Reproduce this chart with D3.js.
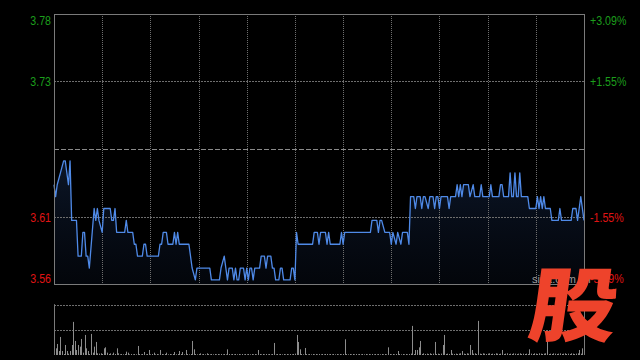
<!DOCTYPE html>
<html>
<head>
	<meta charset="utf-8">
	<script src="https://d3js.org/d3.v7.min.js"></script>
	<style>
		html, body { margin: 0; padding: 0; background: #000; }
		svg { display: block; }
		.lbl { font-family: "Liberation Sans", Arial, sans-serif; font-size: 13px; }
	</style>
</head>
<body>
<script type="text/javascript">
	"use strict";

	// minute of the trading session (0 = 9:30, 150 = 12:00/13:00, 330 = 16:00)
	var minutes = [0,1,2,4,6,7,9,10,11,14,15,17,18,19,20,21,22,25,26,27,28,30,31,35,36,37,38,39,44,45,46,49,
		50,51,52,55,56,57,58,65,66,67,68,70,71,74,75,76,77,78,84,86,88,89,97,98,103,104,106,107,108,109,
		111,112,113,114,115,116,118,119,120,121,122,123,124,125,128,129,131,132,133,135,136,137,138,140,
		141,142,143,147,148,149,150,151,152,161,162,164,165,166,169,170,171,172,178,179,180,181,197,198,
		201,202,203,204,206,209,210,211,213,214,216,217,220,221,222,224,225,226,228,229,230,231,233,234,
		236,237,238,239,240,241,245,246,247,250,251,252,253,254,255,258,259,261,262,265,266,267,271,272,
		273,277,278,279,280,283,284,285,286,287,288,289,290,291,295,296,300,301,302,303,304,305,306,309,
		310,314,315,316,322,323,325,326,328,330];
	var prices = [3.64,3.63,3.64,3.65,3.66,3.66,3.64,3.66,3.61,3.61,3.58,3.58,3.60,3.60,3.58,3.58,3.57,3.62,3.61,3.62,3.61,3.60,3.62,3.62,3.61,3.61,3.62,3.60,3.60,3.61,3.60,3.60,
		3.59,3.59,3.58,3.58,3.59,3.59,3.58,3.58,3.59,3.59,3.60,3.60,3.59,3.59,3.60,3.59,3.60,3.59,3.59,3.57,3.56,3.57,3.57,3.56,3.56,3.57,3.58,3.57,3.56,3.57,
		3.57,3.56,3.57,3.56,3.56,3.57,3.57,3.56,3.57,3.56,3.57,3.57,3.56,3.57,3.57,3.58,3.58,3.57,3.58,3.58,3.57,3.57,3.56,3.56,
		3.57,3.57,3.56,3.56,3.57,3.57,3.56,3.60,3.59,3.59,3.60,3.60,3.59,3.60,3.60,3.59,3.60,3.59,3.59,3.60,3.59,3.60,3.60,3.61,
		3.61,3.60,3.61,3.61,3.60,3.60,3.59,3.60,3.59,3.60,3.59,3.60,3.60,3.59,3.63,3.63,3.62,3.63,3.63,3.62,3.63,3.63,3.62,3.63,
		3.63,3.62,3.63,3.63,3.62,3.63,3.63,3.62,3.63,3.63,3.64,3.63,3.64,3.63,3.64,3.64,3.63,3.64,3.63,3.63,3.64,3.63,3.63,3.64,
		3.63,3.63,3.64,3.64,3.63,3.63,3.65,3.63,3.63,3.65,3.63,3.63,3.65,3.63,3.63,3.62,3.62,3.63,3.62,3.63,3.62,3.63,3.62,3.62,
		3.61,3.61,3.62,3.61,3.61,3.62,3.62,3.61,3.63,3.61];

	// volume per minute, 0..330
	var volumes = [151,20,33,12,54,12,3,30,12,4,
		12,30,99,42,15,30,25,48,7,60,
		20,12,3,63,7,25,39,5,4,5,
		3,20,23,7,3,5,2,7,3,20,
		5,2,3,2,3,10,7,2,3,2,
		3,2,27,3,2,3,9,2,3,15,
		2,3,7,2,3,2,15,3,2,3,
		7,2,3,2,3,9,2,3,12,3,
		9,2,15,3,2,3,42,17,3,2,
		3,5,2,3,2,5,3,2,3,2,
		3,2,3,2,3,2,3,2,17,3,
		2,3,2,3,2,3,2,3,2,3,
		2,3,2,3,2,3,2,15,3,2,
		3,2,3,2,3,2,3,36,2,3,
		2,3,2,3,2,3,2,3,2,3,
		4,60,39,17,3,2,21,3,2,3,
		2,3,2,3,2,3,2,3,2,3,
		3,2,3,2,3,2,3,2,3,2,
		3,47,3,2,3,2,3,2,3,2,
		3,2,3,2,3,2,3,2,3,2,
		3,2,3,2,3,2,3,2,23,3,
		2,3,2,3,12,3,2,3,2,3,
		2,3,4,87,3,15,15,23,42,3,
		5,3,4,3,5,3,4,39,3,4,
		3,4,30,60,3,4,3,15,4,3,
		4,3,4,5,12,4,3,5,4,30,
		15,4,5,3,102,4,3,5,4,3,
		4,5,3,4,3,5,4,3,4,15,
		3,4,5,3,4,3,5,4,3,4,
		5,3,4,3,4,3,17,4,3,5,
		4,3,5,4,3,4,5,42,3,4,
		3,5,4,3,4,5,3,4,5,3,
		4,3,5,4,3,4,5,15,4,20,
		45];

	var preClose = 3.67;
	var pctLevels = [0.0309, 0.0155, -0.0155, -0.0309];
	var priceLabels = ["3.78", "3.73", "3.61", "3.56"];
	var pctLabels = ["+3.09%", "+1.55%", "-1.55%", "-3.09%"];
	var timeGrid = [30, 60, 90, 120, 150, 180, 210, 240, 270, 300];

	var W = 640, H = 360;
	var plotL = 54, plotR = 584, plotT = 14, plotB = 284;
	var volTop = 304.5, volBottom = 355;
	var green = "#1c9e1c", red = "#e01414", gridColor = "#6e6e6e";

	var svg = d3.select("body").append("svg")
		.attr("width", W).attr("height", H);

	var x = d3.scaleLinear().domain([0, 330]).range([plotL, plotR]);
	var y = d3.scaleLinear()
		.domain([preClose * (1 - 0.0309), preClose * (1 + 0.0309)])
		.range([plotB, plotT]);
	var yv = d3.scaleLinear().domain([0, d3.max(volumes)]).range([volBottom, volTop]);

	var pts = minutes.map(function (m, i) { return [m, prices[i]]; });

	var defs = svg.append("defs");
	var grad = defs.append("linearGradient").attr("id", "fillGrad")
		.attr("x1", 0).attr("y1", 0).attr("x2", 0).attr("y2", 1);
	grad.append("stop").attr("offset", "0%").attr("stop-color", "#2a4f8f").attr("stop-opacity", 0.28);
	grad.append("stop").attr("offset", "100%").attr("stop-color", "#1a2f5a").attr("stop-opacity", 0.12);

	// area under price line
	svg.append("path")
		.datum(pts)
		.attr("fill", "url(#fillGrad)")
		.attr("d", d3.area()
			.x(function (d) { return x(d[0]); })
			.y0(plotB)
			.y1(function (d) { return y(d[1]); }));

	// horizontal grid
	svg.selectAll(".hgrid")
		.data(pctLevels.slice(1, 3))
		.enter().append("line")
		.attr("x1", plotL).attr("x2", plotR)
		.attr("y1", function (d) { return Math.round(y(preClose * (1 + d))) + 0.5; })
		.attr("y2", function (d) { return Math.round(y(preClose * (1 + d))) + 0.5; })
		.attr("stroke", gridColor).attr("stroke-dasharray", "2,1");

	// vertical grid
	svg.selectAll(".vgrid")
		.data(timeGrid)
		.enter().append("line")
		.attr("x1", function (d) { return Math.round(x(d)) + 0.5; })
		.attr("x2", function (d) { return Math.round(x(d)) + 0.5; })
		.attr("y1", plotT).attr("y2", plotB)
		.attr("stroke", gridColor).attr("stroke-dasharray", "1,1");

	// previous close
	svg.append("line")
		.attr("x1", plotL).attr("x2", plotR)
		.attr("y1", Math.round(y(preClose)) + 0.5).attr("y2", Math.round(y(preClose)) + 0.5)
		.attr("stroke", "#8a8a8a").attr("stroke-dasharray", "5,2");

	// price line
	svg.append("path")
		.datum(pts)
		.attr("fill", "none")
		.attr("stroke", "#4f8ae8")
		.attr("stroke-width", 1.3)
		.attr("stroke-linejoin", "round")
		.attr("d", d3.line()
			.x(function (d) { return x(d[0]); })
			.y(function (d) { return y(d[1]); }));

	// frame
	svg.append("rect")
		.attr("x", plotL + 0.5).attr("y", plotT + 0.5)
		.attr("width", plotR - plotL).attr("height", plotB - plotT)
		.attr("fill", "none").attr("stroke", "#7a7a7a");

	// labels (narrowed, the original uses a condensed face)
	var labelY = function (i) {
		var v = y(preClose * (1 + pctLevels[i]));
		if (i === 0) return v + 11;
		if (i === pctLevels.length - 1) return v - 1;
		return v + 5;
	};
	svg.selectAll(".plabel")
		.data(priceLabels)
		.enter().append("text")
		.attr("class", "lbl")
		.attr("transform", function (d, i) { return "translate(51," + labelY(i) + ") scale(0.82,1)"; })
		.attr("text-anchor", "end")
		.attr("fill", function (d, i) { return pctLevels[i] > 0 ? green : red; })
		.text(function (d) { return d; });
	svg.selectAll(".pctlabel")
		.data(pctLabels)
		.enter().append("text")
		.attr("class", "lbl")
		.attr("transform", function (d, i) { return "translate(590," + labelY(i) + ") scale(0.82,1)"; })
		.attr("fill", function (d, i) { return pctLevels[i] > 0 ? green : red; })
		.text(function (d) { return d; });

	// volume panel
	[volTop, (volTop + volBottom) / 2].forEach(function (v) {
		svg.append("line")
			.attr("x1", plotL).attr("x2", plotR)
			.attr("y1", Math.round(v) + 0.5).attr("y2", Math.round(v) + 0.5)
			.attr("stroke", gridColor).attr("stroke-dasharray", "2,1");
	});
	svg.selectAll(".vol")
		.data(volumes)
		.enter().append("rect")
		.attr("x", function (d, i) { return Math.round(x(i)); })
		.attr("width", 1)
		.attr("y", function (d) { return yv(d); })
		.attr("height", function (d) { return volBottom - yv(d); })
		.attr("fill", "#8c8c8c");
	[plotL, plotR].forEach(function (v) {
		svg.append("line")
			.attr("x1", v + 0.5).attr("x2", v + 0.5)
			.attr("y1", volTop).attr("y2", volBottom)
			.attr("stroke", "#7a7a7a");
	});

	// watermark
	svg.append("text")
		.attr("x", 532).attr("y", 283)
		.attr("fill", "#9a9a9a")
		.style("font-family", "Liberation Sans, Arial, sans-serif")
		.style("font-size", "11px")
		.text("sina.com.cn");
	svg.append("text")
		.attr("transform", "translate(526,335) skewX(-8) scale(1,0.92)")
		.attr("fill", "#ee432b")
		.style("font-family", "'Noto Sans CJK SC', sans-serif")
		.style("font-weight", 900)
		.style("font-size", "88px")
		.text("股");
</script>
</body>
</html>
